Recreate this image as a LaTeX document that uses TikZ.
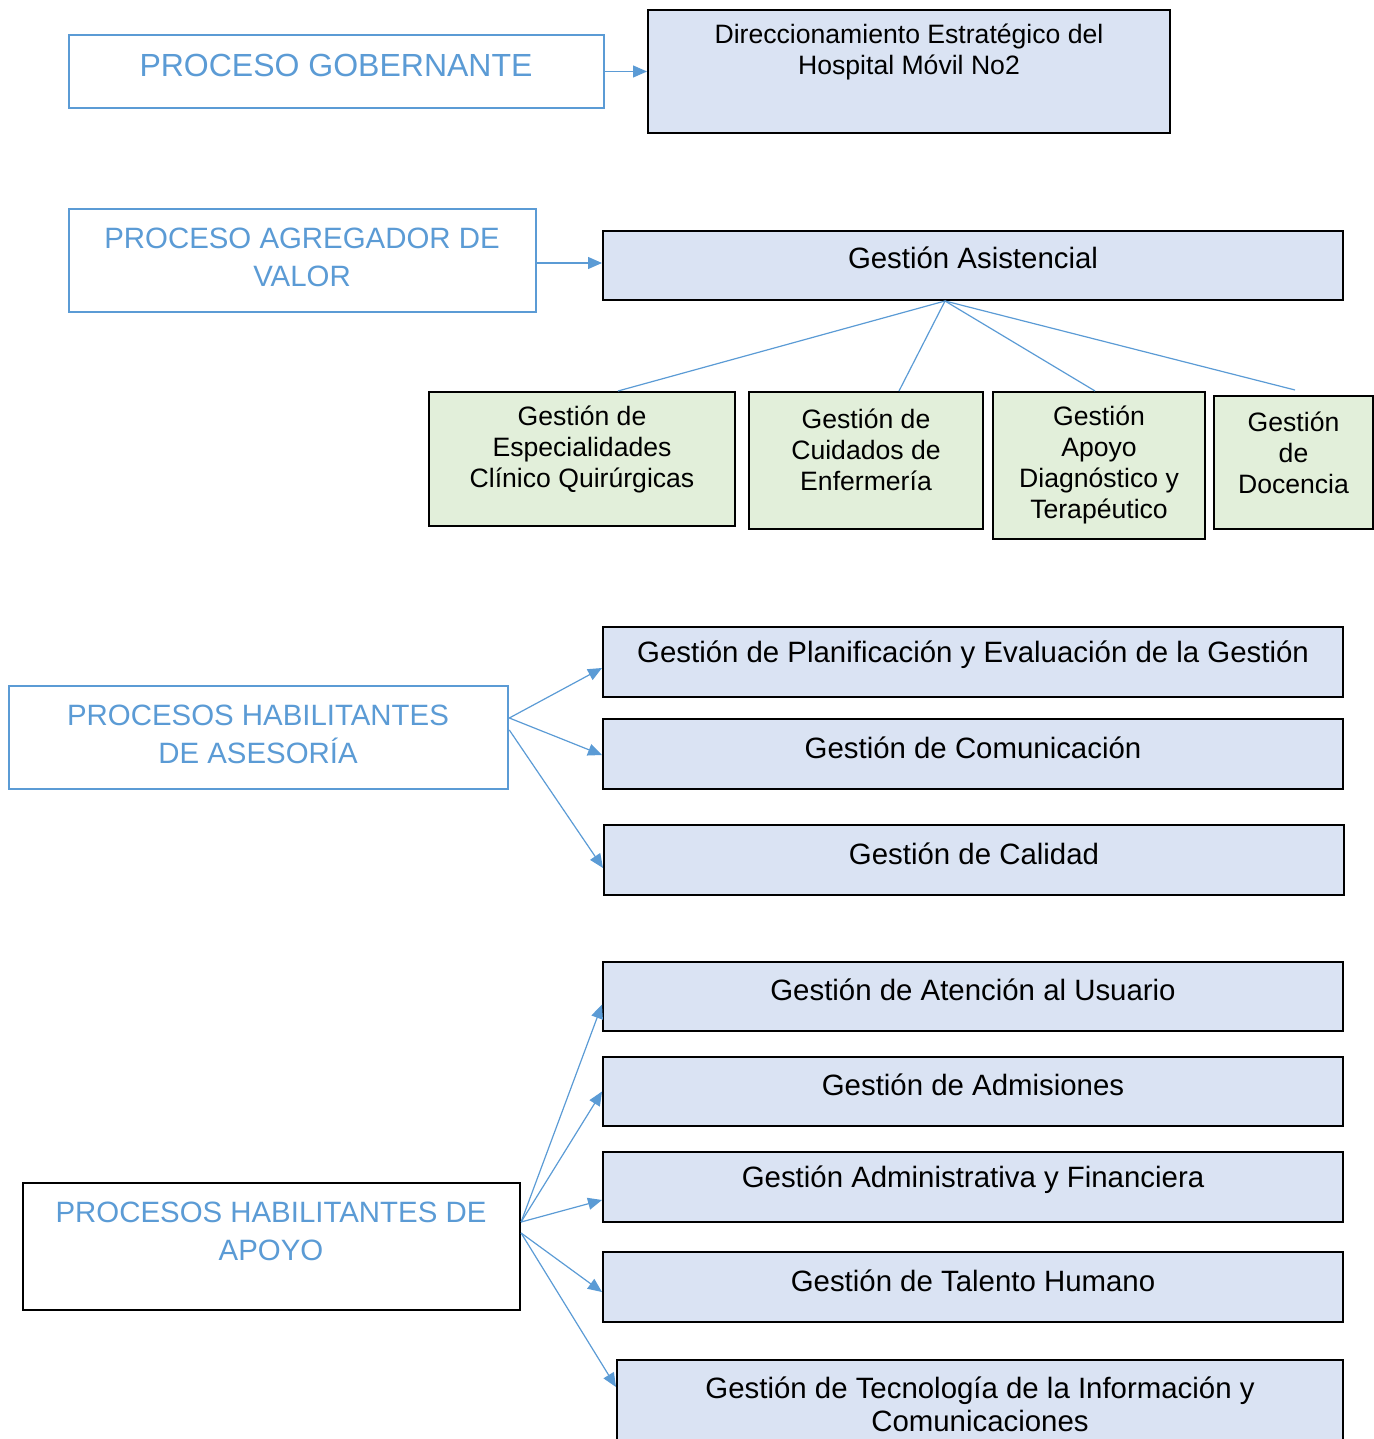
\documentclass[tikz,border=0pt]{standalone}
\usepackage{fontspec}
\setmainfont{Liberation Sans}
\usepackage{tikz}
\usetikzlibrary{arrows.meta, positioning, calc}
\definecolor{HeadBlue}{RGB}{91,155,213}
\definecolor{BoxLav}{RGB}{218,227,243}
\definecolor{BoxGreen}{RGB}{226,239,218}

\begin{document}
\begin{tikzpicture}[x=0.5pt, y=-0.5pt,
    sz/.style 2 args={minimum width={#1*0.5pt}, minimum height={#2*0.5pt}, inner sep=0pt},
    headbox/.style={draw=HeadBlue, line width=1.3pt, fill=white},
    apoyobox/.style={draw=black, line width=1.1pt, fill=white},
    lavbox/.style={draw=black, line width=1pt, fill=BoxLav},
    greenbox/.style={draw=black, line width=1pt, fill=BoxGreen},
    headtxt/.style={text=HeadBlue, align=center, font=\fontsize{14.7}{19}\selectfont},
    bodytxt/.style={align=center, font=\fontsize{14.7}{16.5}\selectfont},
    smalltxt/.style={align=center, font=\fontsize{13.3}{15.5}\selectfont},
    conn/.style={HeadBlue, line width=0.6pt},
    arrow/.style={conn, -{Triangle[length=7pt, width=6pt]}}
  ]
  \clip (0,0) rectangle (1374,1439);

  % gobernante
  \node[headbox, sz={535}{73}] (gob) at (336.5,71.5) {};
  \node[headtxt, font=\fontsize{16}{19}\selectfont] (gobtxt) at (336,65) {PROCESO GOBERNANTE};
  \node[lavbox, sz={522}{123}] (dir) at (909,71.5) {};
  \node[smalltxt] (dirtxt) at (909,51.5) {Direccionamiento Estratégico del\\Hospital Móvil No2};
  \draw[arrow] (gob.east) -- (gob.east -| dir.west);

  % agregador de valor
  \node[headbox, sz={467}{103}] (agr) at (302.5,260.5) {};
  \node[headtxt] (agrtxt) at (302,257) {PROCESO AGREGADOR DE\\VALOR};
  \node[lavbox, sz={740}{69}] (asis) at (973,265.5) {};
  \node[bodytxt] (asistxt) at (973,258) {Gestión Asistencial};
  \draw[arrow] ($(agr.east)+(0,2.5)$) -- ($(asis.west)+(0,-2.5)$);

  \node[greenbox, sz={306}{134}] (esp) at (582,459) {};
  \node[smalltxt] (esptxt) at (582,449) {Gestión de\\Especialidades\\Clínico Quirúrgicas};
  \node[greenbox, sz={234}{137}] (cui) at (866,460.5) {};
  \node[smalltxt] (cuitxt) at (866,449.5) {Gestión de\\Cuidados de\\Enfermería};
  \node[greenbox, sz={212}{147}] (apo) at (1099,465.5) {};
  \node[smalltxt] (apotxt) at (1099,465) {Gestión\\Apoyo\\Diagnóstico y\\Terapéutico};
  \node[greenbox, sz={159}{133}] (doc) at (1293.5,462.5) {};
  \node[smalltxt] (doctxt) at (1293.5,453) {Gestión\\de\\Docencia};

  \coordinate (asisfoot) at ($(asis.south)+(-28,0)$);
  \draw[conn] (asisfoot) -- ($(esp.north)+(36,0)$);
  \draw[conn] (asisfoot) -- ($(cui.north)+(33,0)$);
  \draw[conn] (asisfoot) -- ($(apo.north)+(-4,0)$);
  \draw[conn] (asisfoot) -- ($(doc.north)+(1.5,-5)$);

  % asesoria
  \node[headbox, sz={499}{103}] (ase) at (258.5,737.5) {};
  \node[headtxt] (asetxt) at (258,734) {PROCESOS HABILITANTES\\DE ASESORÍA};
  \node[lavbox, sz={740}{70}] (plan) at (973,662) {};
  \node[bodytxt] (plantxt) at (973,655) {Gestión de Planificación y Evaluación de la Gestión};
  \node[lavbox, sz={740}{70}] (com) at (973,754) {};
  \node[bodytxt] (comtxt) at (973,748) {Gestión de Comunicación};
  \node[lavbox, sz={740}{70}] (cal) at (974,860) {};
  \node[bodytxt] (caltxt) at (974,854) {Gestión de Calidad};

  \draw[arrow] ($(ase.east)+(0,-19.5)$) -- ($(plan.west)+(0,6)$);
  \draw[arrow] ($(ase.east)+(0,-19.5)$) -- ($(com.west)+(0,1)$);
  \draw[arrow] ($(ase.east)+(0,-7.5)$) -- ($(cal.west)+(0,8)$);

  % apoyo
  \node[apoyobox, sz={497}{127}] (apoyo) at (271.5,1246.5) {};
  \node[headtxt] (apoyotxt) at (271,1231) {PROCESOS HABILITANTES DE\\APOYO};
  \node[lavbox, sz={740}{69}] (aten) at (973,996.5) {};
  \node[bodytxt] (atentxt) at (973,990) {Gestión de Atención al Usuario};
  \node[lavbox, sz={740}{69}] (adm) at (973,1091.5) {};
  \node[bodytxt] (admtxt) at (973,1085) {Gestión de Admisiones};
  \node[lavbox, sz={740}{70}] (fin) at (973,1187) {};
  \node[bodytxt] (fintxt) at (973,1180) {Gestión Administrativa y Financiera};
  \node[lavbox, sz={740}{70}] (tal) at (973,1287) {};
  \node[bodytxt] (taltxt) at (973,1281) {Gestión de Talento Humano};
  \node[lavbox, sz={726}{100}] (tec) at (980,1410) {};
  \node[bodytxt] (tectxt) at (980,1404.5) {Gestión de Tecnología de la Información y\\Comunicaciones};

  \coordinate (apoyoA) at ($(apoyo.east)+(0,-24.5)$);
  \coordinate (apoyoB) at ($(apoyo.east)+(0,-13.5)$);
  \draw[arrow] (apoyoA) -- ($(aten.west)+(0,8)$);
  \draw[arrow] (apoyoA) -- ($(adm.west)+(0,0)$);
  \draw[arrow] (apoyoA) -- ($(fin.west)+(0,13)$);
  \draw[arrow] (apoyoB) -- ($(tal.west)+(0,5)$);
  \draw[arrow] (apoyoB) -- ($(tec.west)+(0,-23)$);
\end{tikzpicture}
\end{document}
